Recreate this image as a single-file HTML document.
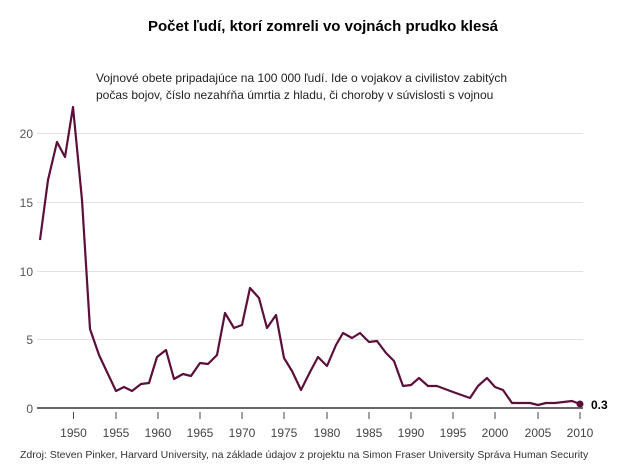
<!DOCTYPE html>
<html><head><meta charset="utf-8"><style>
body{margin:0;background:#fff;width:620px;height:466px;overflow:hidden;font-family:"Liberation Sans",sans-serif}
</style></head><body>
<svg width="620" height="466" xmlns="http://www.w3.org/2000/svg" font-family="Liberation Sans, sans-serif">
<text x="323" y="31" font-size="15" font-weight="bold" text-anchor="middle" fill="#000">Počet ľudí, ktorí zomreli vo vojnách prudko klesá</text>
<text x="96" y="82" font-size="12" fill="#222">Vojnové obete pripadajúce na 100 000 ľudí. Ide o vojakov a civilistov zabitých</text>
<text x="96" y="99" font-size="12" fill="#222">počas bojov, číslo nezahŕňa úmrtia z hladu, či choroby v súvislosti s vojnou</text>
<g stroke="#e2e2e2" stroke-width="1">
<line x1="37" x2="583" y1="133.5" y2="133.5"/><line x1="37" x2="583" y1="202.5" y2="202.5"/>
<line x1="37" x2="583" y1="271.5" y2="271.5"/><line x1="37" x2="583" y1="339.5" y2="339.5"/>
</g>
<line x1="37" x2="583" y1="408" y2="408" stroke="#666" stroke-width="2"/>
<g font-size="12" fill="#555" text-anchor="end">
<text x="33" y="138">20</text><text x="33" y="207">15</text><text x="33" y="276">10</text><text x="33" y="344">5</text><text x="33" y="413">0</text>
</g>
<g stroke="#444" stroke-width="1">
<line x1="73.5" x2="73.5" y1="412" y2="419"/><line x1="116" x2="116" y1="412" y2="419"/><line x1="158" x2="158" y1="412" y2="419"/><line x1="200" x2="200" y1="412" y2="419"/><line x1="242" x2="242" y1="412" y2="419"/><line x1="284" x2="284" y1="412" y2="419"/><line x1="327" x2="327" y1="412" y2="419"/><line x1="369" x2="369" y1="412" y2="419"/><line x1="411" x2="411" y1="412" y2="419"/><line x1="453" x2="453" y1="412" y2="419"/><line x1="495" x2="495" y1="412" y2="419"/><line x1="538" x2="538" y1="412" y2="419"/><line x1="580" x2="580" y1="412" y2="419"/>
</g>
<g font-size="12" fill="#444" text-anchor="middle">
<text x="73.5" y="437">1950</text><text x="116" y="437">1955</text><text x="158" y="437">1960</text><text x="200" y="437">1965</text><text x="242" y="437">1970</text><text x="284" y="437">1975</text><text x="327" y="437">1980</text><text x="369" y="437">1985</text><text x="411" y="437">1990</text><text x="453" y="437">1995</text><text x="495" y="437">2000</text><text x="538" y="437">2005</text><text x="580" y="437">2010</text>
</g>
<polyline fill="none" stroke="#5c0f3a" stroke-width="2.2" stroke-linejoin="round" points="40,240 48,180 57,142 65,157 73,107 82,200 90,329 99,355 107,372 116,391 124,387 132,391 141,384 149,383 157,357 166,350 174,379 183,374 191,376 200,363 208,364 217,355 225,313 234,328 242,325 250,288 259,298 267,328 276,315 284,358 292,371 301,390 310,372 318,357 327,366 336,345 343,333 352,338 360,333 369,342 377,341 386,353 394,361 403,386 411,385 419,378 428,386 437,386 453,392 470,398 478,386 487,378 495,387 503,390 512,403 530,403 538,405 546,403 555,403 572,401 580,404"/>
<circle cx="580" cy="404" r="3.5" fill="#5c0f3a"/>
<text x="591" y="409" font-size="12" font-weight="bold" fill="#000">0.3</text>
<text x="20" y="458" font-size="10.5" fill="#333">Zdroj: Steven Pinker, Harvard University, na základe údajov z projektu na Simon Fraser University Správa Human Security</text>
</svg>
</body></html>
